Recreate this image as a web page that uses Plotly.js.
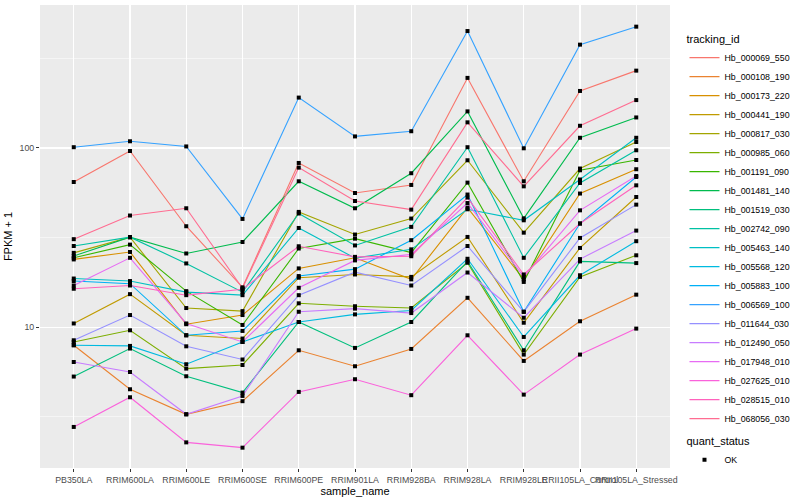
<!DOCTYPE html>
<html><head><meta charset="utf-8">
<script src="https://cdn.plot.ly/plotly-3.0.1.min.js"></script>
<style>html,body{margin:0;padding:0;background:#fff}</style>
</head><body><div id="chart" style="width:800px;height:500px"></div>
<script>
// ---- data (FPKM + 1) ----
const samples = ["PB350LA","RRIM600LA","RRIM600LE","RRIM600SE","RRIM600PE","RRIM901LA","RRIM928BA","RRIM928LA","RRIM928LE","RRII105LA_Control","RRII105LA_Stressed"];
const trackingIds = ["Hb_000069_550","Hb_000108_190","Hb_000173_220","Hb_000441_190","Hb_000817_030","Hb_000985_060","Hb_001191_090","Hb_001481_140","Hb_001519_030","Hb_002742_090","Hb_005463_140","Hb_005568_120","Hb_005883_100","Hb_006569_100","Hb_011644_030","Hb_012490_050","Hb_017948_010","Hb_027625_010","Hb_028515_010","Hb_068056_030"];
const Hb_000069_550 = [64.6, 96.2, 36.6, 16.7, 82.5, 56.1, 62.2, 246, 65.2, 208, 270];
const Hb_000108_190 = [7.94, 4.51, 3.27, 3.87, 7.44, 6.06, 7.57, 14.6, 6.49, 10.8, 15.2];
const Hb_000173_220 = [23.9, 26.3, 10.4, 11.7, 21.3, 24.4, 18.5, 46.5, 18.5, 55.7, 76.1];
const Hb_000441_190 = [10.5, 15.3, 9.02, 8.65, 18.9, 19.7, 19.1, 31.9, 10.6, 27.7, 53.3];
const Hb_000817_030 = [26.0, 31.8, 12.8, 12.3, 44.0, 32.9, 40.4, 85.4, 33.7, 76.8, 108];
const Hb_000985_060 = [8.28, 9.62, 5.88, 6.16, 13.6, 13.1, 12.8, 22.9, 7.04, 19.1, 25.2];
const Hb_001191_090 = [24.4, 28.9, 15.9, 10.3, 27.5, 31.2, 26.1, 64.1, 17.9, 75.1, 85.7];
const Hb_001481_140 = [25.0, 31.8, 25.8, 29.9, 65.2, 46.1, 72.3, 160, 40.5, 114, 148];
const Hb_001519_030 = [5.31, 7.61, 5.33, 4.32, 10.7, 7.67, 10.7, 23.3, 7.44, 23.3, 22.8];
const Hb_002742_090 = [28.4, 31.8, 22.7, 15.7, 43.1, 28.6, 36.3, 101, 24.4, 63.8, 97.1];
const Hb_005463_140 = [18.7, 18.1, 15.7, 15.1, 35.8, 24.3, 27.2, 45.5, 39.5, 66.7, 114];
const Hb_005568_120 = [7.94, 7.87, 6.22, 8.28, 10.7, 11.8, 12.4, 24.1, 8.83, 19.5, 30.2];
const Hb_005883_100 = [18.1, 17.5, 9.02, 9.54, 19.3, 21.1, 30.6, 55.0, 12.2, 37.9, 68.9];
const Hb_006569_100 = [101, 109, 102, 40.2, 191, 116, 124, 449, 99.6, 377, 475];
const Hb_011644_030 = [8.46, 11.7, 7.83, 6.61, 15.1, 20.3, 17.1, 28.4, 12.2, 31.5, 48.3];
const Hb_012490_050 = [6.40, 5.63, 3.27, 4.14, 12.2, 12.7, 12.0, 20.2, 11.3, 24.0, 34.6];
const Hb_017948_010 = [17.1, 24.4, 10.5, 8.28, 16.6, 23.6, 25.5, 49.3, 19.1, 44.9, 69.8];
const Hb_027625_010 = [2.78, 4.07, 2.28, 2.13, 4.36, 5.13, 4.18, 9.02, 4.21, 7.04, 9.83];
const Hb_028515_010 = [16.4, 17.1, 15.1, 16.3, 28.3, 24.7, 24.9, 52.9, 19.7, 37.9, 61.9];
const Hb_068056_030 = [31.0, 42.0, 46.1, 16.5, 77.7, 50.6, 45.3, 139, 61.1, 133, 185];
const quantStatus = "OK";
const yTickVals = [10, 100];
const yMinorVals = [3.162, 31.62, 316.2];

// ---- styles ----
const hueColors = ["#F8766D","#EA8331","#D89000","#C09B00","#A3A500","#7CAE00","#39B600","#00BB4E","#00BF7D","#00C1A3","#00BFC4","#00BAE0","#00B0F6","#35A2FF","#9590FF","#C77CFF","#E76BF3","#FA62DB","#FF62BC","#FF6C91"];

const seriesList = [Hb_000069_550,Hb_000108_190,Hb_000173_220,Hb_000441_190,Hb_000817_030,Hb_000985_060,Hb_001191_090,Hb_001481_140,Hb_001519_030,Hb_002742_090,Hb_005463_140,Hb_005568_120,Hb_005883_100,Hb_006569_100,Hb_011644_030,Hb_012490_050,Hb_017948_010,Hb_027625_010,Hb_028515_010,Hb_068056_030];

const traces = seriesList.map((vals, i) => ({
  type: 'scatter', mode: 'lines', x: samples, y: vals, name: trackingIds[i],
  line: {color: hueColors[i], width: 1.1}, legend: 'legend', hoverinfo: 'x+y+name'
}));
const px = [], py = [];
seriesList.forEach(v => v.forEach((val, j) => { px.push(samples[j]); py.push(val); }));
traces.push({
  type: 'scatter', mode: 'markers', x: px, y: py, name: quantStatus, legend: 'legend2',
  marker: {color: 'black', symbol: 'square', size: 4}
});

const tickFont = {family: 'Liberation Sans, Arial, sans-serif', size: 8.8, color: '#4D4D4D'};
const titleFont = {family: 'Liberation Sans, Arial, sans-serif', size: 11, color: '#000000'};

const layout = {
  width: 800, height: 500,
  margin: {l: 40, r: 116, t: 5, b: 32},
  paper_bgcolor: '#FFFFFF', plot_bgcolor: '#EBEBEB',
  font: {family: 'Liberation Sans, Arial, sans-serif', size: 9, color: '#000000'},
  showlegend: true,
  xaxis: {
    type: 'category', range: [-0.6, 10.6], showgrid: true, gridcolor: '#FFFFFF', gridwidth: 1.1,
    zeroline: false, showline: false, ticks: 'outside', ticklen: 3, tickwidth: 1, tickcolor: '#333333',
    tickangle: 0, tickfont: tickFont, automargin: false,
    title: {text: 'sample_name', font: titleFont, standoff: 0}
  },
  yaxis: {
    type: 'log', range: [0.215, 2.7975], tickmode: 'array', tickvals: yTickVals, ticktext: yTickVals.map(String),
    showgrid: true, gridcolor: '#FFFFFF', gridwidth: 1.1, zeroline: false, showline: false,
    ticks: 'outside', ticklen: 3, tickwidth: 1, tickcolor: '#333333', tickfont: tickFont, automargin: false,
    minor: {tickmode: 'array', tickvals: yMinorVals, showgrid: true, gridcolor: '#FFFFFF', gridwidth: 0.5, ticks: ''},
    title: {text: 'FPKM + 1', font: titleFont, standoff: 4}
  },
  legend: {
    x: 1.023, y: 0.9485, xanchor: 'left', yanchor: 'top', itemwidth: 30,
    title: {text: 'tracking_id', font: titleFont},
    font: {family: 'Liberation Sans, Arial, sans-serif', size: 8.8, color: '#000000'},
    bgcolor: 'rgba(0,0,0,0)', tracegroupgap: 0
  },
  legend2: {
    x: 1.023, y: 0.08, xanchor: 'left', yanchor: 'top', itemwidth: 30,
    title: {text: 'quant_status', font: titleFont},
    font: {family: 'Liberation Sans, Arial, sans-serif', size: 8.8, color: '#000000'},
    bgcolor: 'rgba(0,0,0,0)'
  }
};
Plotly.newPlot('chart', traces, layout, {displayModeBar: false, staticPlot: true});
</script>
</body></html>
